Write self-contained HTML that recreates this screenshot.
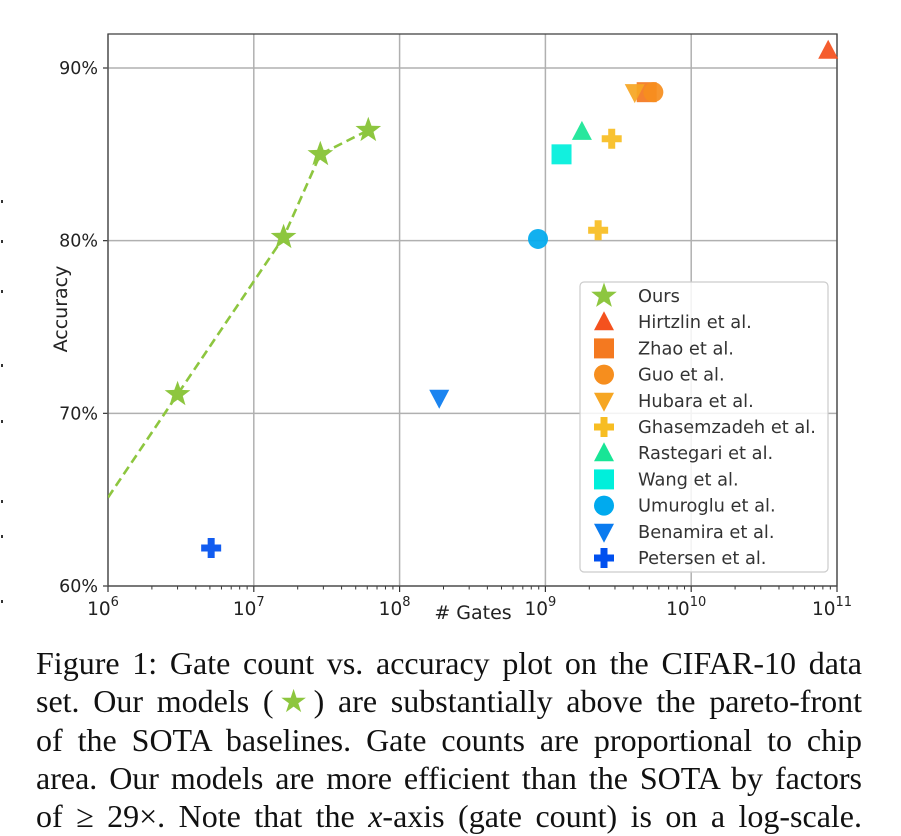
<!DOCTYPE html>
<html><head><meta charset="utf-8"><style>
html,body{margin:0;padding:0;background:#fff;width:901px;height:836px;overflow:hidden}
svg text{font-family:"DejaVu Sans","Liberation Sans",sans-serif}
.cap{position:absolute;left:36px;top:644px;width:826px;font-family:"Liberation Serif",serif;font-size:32px;line-height:38.3px;color:#111;margin:0}
.cap div{text-align:justify;text-align-last:justify;white-space:nowrap}
</style></head><body>
<svg id="chart" width="901" height="640" style="position:absolute;left:0;top:0"></svg>
<div class="cap">
<div>Figure 1: Gate count vs. accuracy plot on the CIFAR-10 data</div>
<div>set. Our models (<span style="color:#8dc63f">★</span>) are substantially above the pareto-front</div>
<div>of the SOTA baselines. Gate counts are proportional to chip</div>
<div>area. Our models are more efficient than the SOTA by factors</div>
<div>of ≥ 29×. Note that the <i>x</i>-axis (gate count) is on a log-scale.</div>
</div>
<script>
const xTicks=[6,7,8,9,10,11];
const yTicks=[60,70,80,90];
const yTickLabels=["60%","70%","80%","90%"];
const oursGates=[3.0e6,1.6e7,2.86e7,6.1e7];
const oursAcc=[71.1,80.2,85.0,86.4];
const baseNames=["Hirtzlin et al.","Zhao et al.","Guo et al.","Hubara et al.","Ghasemzadeh et al.","Ghasemzadeh et al.","Rastegari et al.","Wang et al.","Umuroglu et al.","Benamira et al.","Petersen et al."];
const baseGates=[8.7e10,4.95e9,5.5e9,4.1e9,2.85e9,2.3e9,1.78e9,1.29e9,8.9e8,1.87e8,5.1e6];
const baseAcc=[91.0,88.6,88.6,88.6,85.9,80.6,86.3,85.0,80.1,70.9,62.2];
const legendNames=["Ours","Hirtzlin et al.","Zhao et al.","Guo et al.","Hubara et al.","Ghasemzadeh et al.","Rastegari et al.","Wang et al.","Umuroglu et al.","Benamira et al.","Petersen et al."];

const styles={"Ours":["star","#8dc63f"],"Hirtzlin et al.":["tri","#f4511e"],"Zhao et al.":["sq","#f47920"],"Guo et al.":["circ","#f68e1e"],"Hubara et al.":["dtri","#f6a623"],"Ghasemzadeh et al.":["plus","#f7bd22"],"Rastegari et al.":["tri","#18e596"],"Wang et al.":["sq","#00efdb"],"Umuroglu et al.":["circ","#00aaee"],"Benamira et al.":["dtri","#0a7bef"],"Petersen et al.":["plus","#0050ef"]};
const L=108,R=837,T=34,B=586;
const xs=v=>L+(Math.log10(v)-6)/5*(R-L);
const ys=a=>68+(90-a)*(586-68)/30;
const svg=document.getElementById('chart');
const NS="http://www.w3.org/2000/svg";
function mk(tag,attrs,parent){const e=document.createElementNS(NS,tag);for(const k in attrs)e.setAttribute(k,attrs[k]);(parent||svg).appendChild(e);return e;}
function marker(kind,color,cx,cy,parent){
  let e;
  if(kind==="star"){let p=[];for(let i=0;i<10;i++){const r=i%2?5.5:13.5,a=-Math.PI/2+i*Math.PI/5;p.push((cx+r*Math.cos(a)).toFixed(1)+","+(cy+r*Math.sin(a)).toFixed(1));}e=mk('polygon',{points:p.join(' '),fill:color},parent);}
  else if(kind==="tri"){e=mk('polygon',{points:`${cx},${cy-11} ${cx+10},${cy+8} ${cx-10},${cy+8}`,fill:color},parent);}
  else if(kind==="dtri"){e=mk('polygon',{points:`${cx},${cy+11} ${cx+10},${cy-8} ${cx-10},${cy-8}`,fill:color},parent);}
  else if(kind==="sq"){e=mk('rect',{x:cx-10,y:cy-10,width:20,height:20,fill:color},parent);}
  else if(kind==="circ"){e=mk('circle',{cx:cx,cy:cy,r:10,fill:color},parent);}
  else {e=mk('path',{d:`M${cx-3.5},${cy-10}h7v6.5h6.5v7h-6.5v6.5h-7v-6.5h-6.5v-7h6.5z`,fill:color,'stroke-linejoin':'round'},parent);}
  return e;
}
yTicks.forEach((t,i)=>{const g=mk('line',{x1:L,x2:R,y1:ys(t),y2:ys(t),stroke:'#b0b0b0','stroke-width':1.5});


mk('line',{x1:L-5,x2:L,y1:ys(t),y2:ys(t),stroke:'#333','stroke-width':1.2});
const tx=mk('text',{x:L-10,y:ys(t)+6,'text-anchor':'end','font-size':17.5,fill:'#222'});tx.textContent=yTickLabels[i];

});
xTicks.forEach(t=>{const x=xs(Math.pow(10,t));const g=mk('line',{x1:x,x2:x,y1:T,y2:B,stroke:'#b0b0b0','stroke-width':1.5});


mk('line',{x1:x,x2:x,y1:B,y2:B+6,stroke:'#333','stroke-width':1.2});
const tx=mk('text',{x:x-5,y:B+29,'text-anchor':'middle','font-size':18.5,fill:'#222'});tx.textContent='10';


const sp=mk('tspan',{dy:-9,'font-size':13});sp.textContent=String(t);tx.appendChild(sp);
if(t<11)for(let m=2;m<10;m++){const mx=xs(m*Math.pow(10,t));mk('line',{x1:mx,x2:mx,y1:B,y2:B+3.5,stroke:'#333','stroke-width':1});}
});
const fr=mk('rect',{x:L,y:T,width:R-L,height:B-T,fill:'none',stroke:'#444','stroke-width':1.3});


const xt=mk('text',{x:473,y:619,'text-anchor':'middle','font-size':19,fill:'#222'});xt.textContent='# Gates';


const yt=mk('text',{x:0,y:0,'text-anchor':'middle','font-size':19,fill:'#222',transform:'translate(67,309) rotate(-90)'});yt.textContent='Accuracy';


const clip=mk('clipPath',{id:'pc'});mk('rect',{x:L,y:T,width:R-L,height:B-T},clip);
const x0=xs(oursGates[0]),y0=ys(oursAcc[0]),x1=xs(oursGates[1]),y1=ys(oursAcc[1]);
const slope=(y1-y0)/(x1-x0);
let pts=[[L,y0+(L-x0)*slope]];
oursGates.forEach((g,i)=>pts.push([xs(g),ys(oursAcc[i])]));
const ln=mk('polyline',{points:pts.map(p=>p[0].toFixed(1)+','+p[1].toFixed(1)).join(' '),fill:'none',stroke:'#8dc63f','stroke-width':2.6,'stroke-dasharray':'9,5','clip-path':'url(#pc)'});


baseNames.forEach((n,i)=>{const s=styles[n];const m=marker(s[0],s[1],xs(baseGates[i]),ys(baseAcc[i]));
m.setAttribute('opacity','0.93');

});
oursGates.forEach((g,i)=>{const m=marker('star','#8dc63f',xs(g),ys(oursAcc[i]));

});
const lg=mk('g',{});


mk('rect',{x:580,y:282,width:248,height:290,rx:4,fill:'#fff','fill-opacity':0.85,stroke:'#ccc','stroke-width':1.2},lg);
legendNames.forEach((n,i)=>{const y=296+i*26.2;const s=styles[n];const e=mk('g',{},lg);


marker(s[0],s[1],604,y,e);
const t=mk('text',{x:638,y:y+6,'font-size':17.8,fill:'#333'},e);t.textContent=n;});
[200,240,290,364,420,500,535,600].forEach(y=>mk('rect',{x:1,y:y,width:2,height:3,fill:'#333'}));
</script>
</body></html>
